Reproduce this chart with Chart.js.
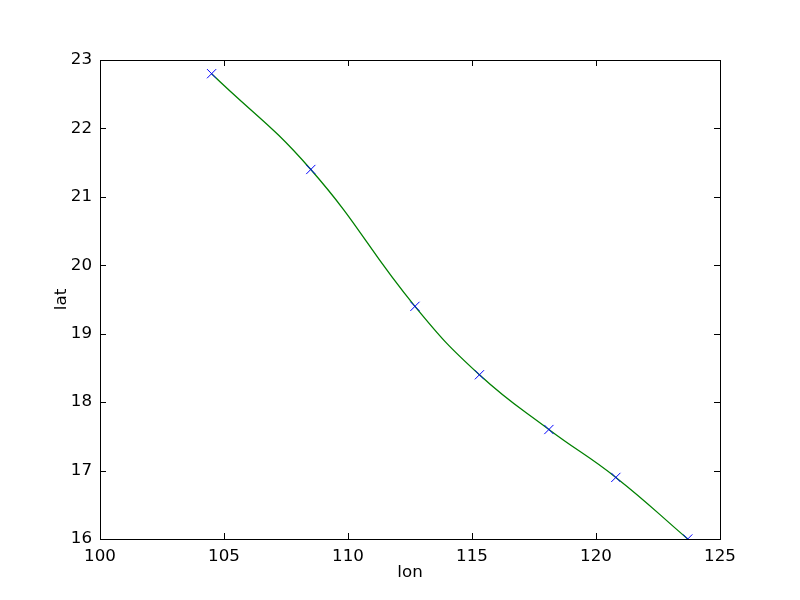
<!DOCTYPE html>
<html>
<head>
<meta charset="utf-8">
<script src="https://cdn.jsdelivr.net/npm/chart.js@4"></script>
<style>
  html, body { margin: 0; padding: 0; background: #fff; }
</style>
</head>
<body>
<canvas id="track" width="800" height="600"></canvas>
<script>
// data
const lon = [104.5, 108.5, 112.7, 115.3, 118.1, 120.8, 123.7];
const lat = [22.8, 21.4, 19.4, 18.4, 17.6, 16.9, 16.0];
const xTicks = [100, 105, 110, 115, 120, 125];
const yTicks = [16, 17, 18, 19, 20, 21, 22, 23];

const points = lon.map((x, i) => ({ x: x, y: lat[i] }));
const tickFont = { family: "'DejaVu Sans'", size: 16.7 };

// matplotlib style: inward ticks on all four sides + full frame
const frameTicks = {
  id: "frameTicks",
  afterDraw(chart) {
    const ctx = chart.ctx;
    const a = chart.chartArea;
    const xs = chart.scales.x, ys = chart.scales.y;
    const len = 6;
    ctx.save();
    ctx.strokeStyle = "#000";
    ctx.lineWidth = 1;
    ctx.beginPath();
    xTicks.forEach(v => {
      const px = Math.round(xs.getPixelForValue(v)) + 0.5;
      ctx.moveTo(px, a.bottom); ctx.lineTo(px, a.bottom - len);
      ctx.moveTo(px, a.top); ctx.lineTo(px, a.top + len);
    });
    yTicks.forEach(v => {
      const py = Math.round(ys.getPixelForValue(v)) + 0.5;
      ctx.moveTo(a.left, py); ctx.lineTo(a.left + len, py);
      ctx.moveTo(a.right, py); ctx.lineTo(a.right - len, py);
    });
    ctx.stroke();
    ctx.strokeRect(Math.round(a.left) + 0.5, Math.round(a.top) + 0.5,
                   Math.round(a.right - a.left), Math.round(a.bottom - a.top));
    ctx.restore();
  }
};

new Chart(document.getElementById("track"), {
  type: "scatter",
  data: {
    datasets: [
      {
        data: points,
        showLine: false,
        pointStyle: "crossRot",
        pointRadius: 6.5,
        borderColor: "#0000ff",
        borderWidth: 1,
        backgroundColor: "#0000ff"
      },
      {
        data: points,
        showLine: true,
        tension: 0.45,
        borderColor: "#008000",
        borderWidth: 1.3,
        pointRadius: 0,
        fill: false
      }
    ]
  },
  options: {
    responsive: false,
    animation: false,
    devicePixelRatio: 1,
    layout: { padding: { top: 60, right: 80, left: 0, bottom: 0 } },
    plugins: { legend: { display: false }, tooltip: { enabled: false } },
    scales: {
      x: {
        type: "linear",
        min: 100, max: 125,
        afterBuildTicks: s => { s.ticks = xTicks.map(v => ({ value: v })); },
        afterFit: s => { s.height = 61; },
        grid: { display: false, drawTicks: false },
        border: { display: false },
        ticks: { color: "#000", font: tickFont, padding: 8, maxRotation: 0, autoSkip: false },
        title: { display: true, text: "lon", color: "#000", font: tickFont, padding: { top: 0, bottom: 17 } }
      },
      y: {
        type: "linear",
        min: 16, max: 23,
        afterBuildTicks: s => { s.ticks = yTicks.map(v => ({ value: v })); },
        afterFit: s => { s.width = 100; },
        grid: { display: false, drawTicks: false },
        border: { display: false },
        ticks: { color: "#000", font: tickFont, padding: 8, autoSkip: false },
        title: { display: true, text: "lat", color: "#000", font: tickFont, padding: { top: 52, bottom: 0 } }
      }
    }
  },
  plugins: [frameTicks]
});
</script>
</body>
</html>
